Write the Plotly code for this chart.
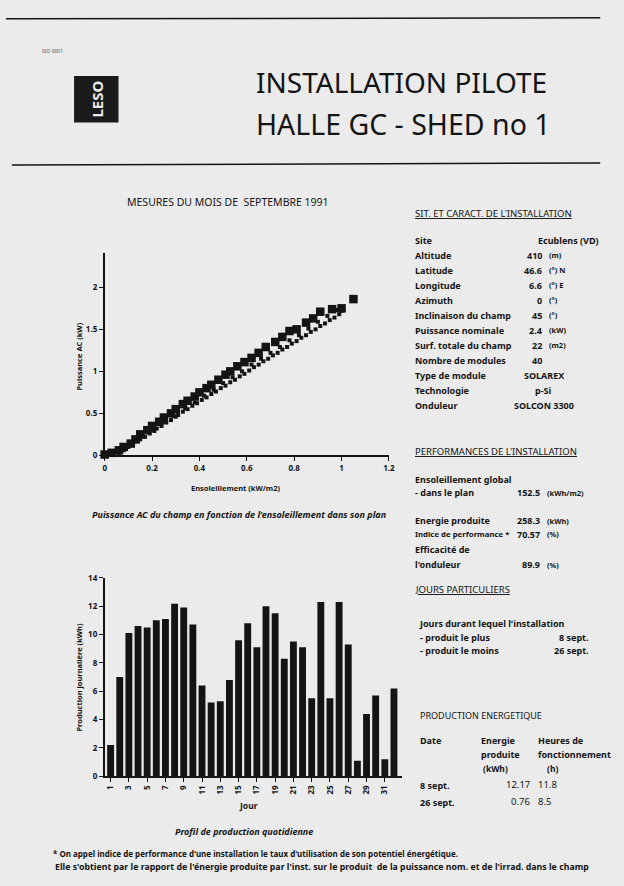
import plotly.graph_objects as go

W, H = 624, 886
BG = "#ebebeb"
INK = "#141414"
FONT = "Noto Sans"


def px(x):
    return x / W


def py(y):
    return 1 - y / H


# ---------------- data ----------------
# AC power vs. in-plane irradiance (upper row of square markers)
irr_sq = [0.00, 0.03, 0.06, 0.08, 0.11, 0.13, 0.15, 0.18, 0.20, 0.23, 0.25, 0.28,
          0.30, 0.33, 0.35, 0.38, 0.40, 0.43, 0.45, 0.48, 0.51, 0.53, 0.56, 0.59,
          0.62, 0.65, 0.68, 0.72, 0.75, 0.78, 0.81, 0.85, 0.88, 0.91, 0.96, 1.00, 1.05]
pac_sq = [0.01, 0.03, 0.06, 0.10, 0.14, 0.19, 0.25, 0.30, 0.35, 0.40, 0.45, 0.50,
          0.55, 0.61, 0.65, 0.70, 0.75, 0.80, 0.84, 0.90, 0.96, 1.00, 1.06, 1.11,
          1.16, 1.22, 1.29, 1.35, 1.41, 1.48, 1.50, 1.58, 1.63, 1.71, 1.74, 1.75, 1.86]
# AC power vs. irradiance (smaller hourly marks forming the lower band)
irr_dot = [0.04, 0.06, 0.08, 0.09, 0.10, 0.12, 0.14, 0.15, 0.17, 0.19, 0.21, 0.22,
           0.24, 0.26, 0.28, 0.30, 0.31, 0.33, 0.35, 0.37, 0.39, 0.41, 0.43, 0.45,
           0.47, 0.49, 0.51, 0.53, 0.55, 0.57, 0.59, 0.61, 0.63, 0.65, 0.67, 0.69,
           0.71, 0.73, 0.75, 0.77, 0.79, 0.81, 0.83, 0.85, 0.87, 0.89, 0.91, 0.93,
           0.95, 0.97, 0.99, 1.00,
           0.07, 0.11, 0.16, 0.20, 0.25, 0.29, 0.34, 0.38, 0.42, 0.46, 0.50, 0.54,
           0.58, 0.62, 0.66, 0.70, 0.74, 0.78, 0.82, 0.86, 0.90, 0.94, 0.98]
pac_dot = [0.01, 0.03, 0.06, 0.08, 0.10, 0.13, 0.17, 0.19, 0.22, 0.26, 0.29, 0.32,
           0.35, 0.39, 0.42, 0.46, 0.48, 0.52, 0.55, 0.59, 0.62, 0.66, 0.69, 0.73,
           0.76, 0.80, 0.83, 0.87, 0.90, 0.94, 0.97, 1.01, 1.05, 1.08, 1.12, 1.15,
           1.19, 1.22, 1.26, 1.29, 1.33, 1.36, 1.40, 1.43, 1.47, 1.50, 1.54, 1.57,
           1.61, 1.64, 1.68, 1.72,
           0.07, 0.13, 0.23, 0.30, 0.40, 0.47, 0.56, 0.63, 0.71, 0.78, 0.86, 0.93,
           1.00, 1.08, 1.15, 1.22, 1.29, 1.37, 1.43, 1.51, 1.59, 1.66, 1.73]

# daily energy production
days = list(range(1, 33))
daily_kwh = [2.2, 7.0, 10.1, 10.6, 10.5, 11.0, 11.1, 12.17, 11.9, 10.7,
             6.4, 5.2, 5.3, 6.8, 9.6, 10.8, 9.1, 12.0, 11.5, 8.3,
             9.5, 9.1, 5.5, 12.3, 5.5, 12.3, 9.3, 1.1, 4.4, 5.7,
             1.2, 6.2]

scatter_xticks = [0, 0.2, 0.4, 0.6, 0.8, 1, 1.2]
scatter_xtext = ["0", "0.2", "0.4", "0.6", "0.8", "1", "1.2"]
scatter_yticks = [0, 0.5, 1, 1.5, 2]
scatter_ytext = ["0", "0.5", "1", "1.5", "2"]
bar_yticks = [0, 2, 4, 6, 8, 10, 12, 14]
bar_xticks = list(range(1, 32, 2))

site_labels = ["Site", "Altitude", "Latitude", "Longitude", "Azimuth",
               "Inclinaison du champ", "Puissance nominale", "Surf. totale du champ",
               "Nombre de modules", "Type de module", "Technologie", "Onduleur"]
site_numbers = ["", "410", "46.6", "6.6", "0", "45", "2.4", "22", "40", "", "", ""]
site_units = ["", "(m)", "(°) N", "(°) E", "(°)", "(°)", "(kW)", "(m2)", "", "", "", ""]
site_words = ["Ecublens (VD)", "", "", "", "", "", "", "", "", "SOLAREX", "p-Si", "SOLCON 3300"]

perf_labels = ["Ensoleillement global", "- dans le plan", "Energie produite",
               "Indice de performance *", "Efficacité de", "l'onduleur"]
perf_numbers = ["", "152.5", "258.3", "70.57", "", "89.9"]
perf_units = ["", "(kWh/m2)", "(kWh)", "(%)", "", "(%)"]

prod_dates = ["8 sept.", "26 sept."]
prod_energy = ["12.17", "0.76"]
prod_hours = ["11.8", "8.5"]

# ---------------- figure ----------------
fig = go.Figure()

fig.add_trace(go.Scatter(
    x=irr_dot, y=pac_dot, mode="markers", xaxis="x", yaxis="y",
    marker=dict(symbol="square", size=4, color=INK), cliponaxis=False,
    showlegend=False, hoverinfo="skip"))
fig.add_trace(go.Scatter(
    x=irr_sq, y=pac_sq, mode="markers", xaxis="x", yaxis="y",
    marker=dict(symbol="square", size=8.5, color=INK), cliponaxis=False,
    showlegend=False))

fig.add_trace(go.Bar(
    x=days, y=daily_kwh, xaxis="x2", yaxis="y2",
    marker=dict(color=INK, line=dict(width=0)), showlegend=False))

tickfont = dict(family=FONT, size=8, color=INK, weight="bold")
axis_common = dict(showgrid=False, zeroline=False, showline=True, linecolor=INK,
                   linewidth=1.6, ticks="outside", tickcolor=INK, ticklen=4,
                   tickwidth=1.3, tickfont=tickfont)

fig.update_layout(
    width=W, height=H, margin=dict(l=0, r=0, t=0, b=0),
    paper_bgcolor=BG, plot_bgcolor=BG, bargap=0.25,
    xaxis=dict(domain=[px(104), px(392)], range=[0, 1.2], anchor="y",
               tickvals=scatter_xticks, ticktext=scatter_xtext, **axis_common),
    yaxis=dict(domain=[py(455), py(250)], range=[0, 2.41], anchor="x",
               tickvals=scatter_yticks, ticktext=scatter_ytext, **axis_common),
    xaxis2=dict(domain=[px(104), px(405)], range=[0.35, 32.86], anchor="y2",
                tickvals=bar_xticks, tickangle=-90, **axis_common),
    yaxis2=dict(domain=[py(780), py(579)], range=[0, 14], anchor="x2",
                tickvals=bar_yticks, **axis_common),
)

ann = []


def text(x, y, s, size=9, xanchor="left", yanchor="middle", color=INK,
         textangle=0, weight="bold", style="normal"):
    ann.append(dict(x=px(x), y=py(y), xref="paper", yref="paper", text=s,
                    showarrow=False, xanchor=xanchor, yanchor=yanchor,
                    textangle=textangle,
                    font=dict(family=FONT, size=size, color=color,
                              weight=weight, style=style)))


# header
text(255, 77, "INSTALLATION PILOTE", size=28, weight="normal")
text(255, 119, "HALLE GC - SHED no 1", size=28.5, weight="normal")
text(38, 46, "ISO 9001", size=5, color="#555", weight="normal")
text(96, 94, "LESO", size=15, color=BG, xanchor="center", textangle=-90)

# scatter chart titles
text(229, 198, "MESURES DU MOIS DE  SEPTEMBRE 1991", size=10.5, xanchor="center",
     weight="normal")
text(78, 355, "Puissance AC (kW)", size=7.5, xanchor="center", textangle=-90)
text(237, 488, "Ensoleillement (kW/m2)", size=7.5, xanchor="center")
text(240, 515, "Puissance AC du champ en fonction de l'ensoleillement dans son plan",
     size=9, xanchor="center", style="italic")

# bar chart titles
text(78, 680, "Production journalière (kWh)", size=7.5, xanchor="center", textangle=-90)
text(250, 810, "Jour", size=8.5, xanchor="center")
text(245, 836, "Profil de production quotidienne", size=9, xanchor="center",
     style="italic")

# installation characteristics
text(416, 210, "<u>SIT. ET CARACT. DE L'INSTALLATION</u>", size=9.5, weight="normal")
for i, lab in enumerate(site_labels):
    yy = 237 + i * 15.2
    text(416, yy, lab, size=9)
    if site_numbers[i]:
        text(549, yy, site_numbers[i], size=9, xanchor="right")
        if site_units[i]:
            text(552, yy, site_units[i], size=7.5)
    elif site_words[i]:
        if i == 0:
            text(607, yy, site_words[i], size=9, xanchor="right")
        else:
            text(549, yy, site_words[i], size=9, xanchor="center")

# performance
text(416, 451, "<u>PERFORMANCES DE L'INSTALLATION</u>", size=9.5, weight="normal")
perf_y = [479, 493, 521, 535, 550, 566]
perf_size = [9, 9, 9, 7.8, 9, 9]
for lab, num, unit, yy, sz in zip(perf_labels, perf_numbers, perf_units, perf_y, perf_size):
    text(416, yy, lab, size=sz)
    if num:
        text(547, yy, num, size=9, xanchor="right")
        text(550, yy, unit, size=7.5)

# particular days
text(416, 591, "<u>JOURS PARTICULIERS</u>", size=9.5, weight="normal")
text(420, 625, "Jours durant lequel l'installation", size=9)
text(421, 639, "- produit le plus", size=9)
text(597, 639, "8 sept.", size=9, xanchor="right")
text(421, 653, "- produit le moins", size=9)
text(597, 653, "26 sept.", size=9, xanchor="right")

# energy production table
text(421, 718, "PRODUCTION ENERGETIQUE", size=9, weight="normal")
text(421, 744, "Date", size=9)
text(483, 744, "Energie", size=9)
text(483, 758, "produite", size=9)
text(500, 772, "(kWh)", size=8.5, xanchor="center")
text(541, 744, "Heures de", size=9)
text(541, 758, "fonctionnement", size=9)
text(558, 772, "(h)", size=8.5, xanchor="center")
for i, (d, e, h) in enumerate(zip(prod_dates, prod_energy, prod_hours)):
    yy = 788 + i * 18
    text(421, yy + 1, d, size=9)
    text(537, yy, e, size=9.5, xanchor="right", weight="normal")
    text(541, yy, h, size=9.5, weight="normal")

# footnote
text(50, 858, "* On appel indice de performance d'une installation le taux d'utilisation de son potentiel énergétique.",
     size=8)
text(52, 872, "Elle s'obtient par le rapport de l'énergie produite par l'inst. sur le produit  de la puissance nom. et de l'irrad. dans le champ",
     size=8.8)

fig.update_layout(annotations=ann)

# rules and logo block
fig.update_layout(shapes=[
    dict(type="line", xref="paper", yref="paper", x0=px(4), x1=px(606), y0=py(13), y1=py(12),
         line=dict(color=INK, width=1.5)),
    dict(type="line", xref="paper", yref="paper", x0=px(10), x1=px(606), y0=py(161), y1=py(159),
         line=dict(color=INK, width=1.5)),
    dict(type="rect", xref="paper", yref="paper", x0=px(73), x1=px(118), y0=py(118), y1=py(71),
         fillcolor="#1a1a1a", line=dict(width=0), layer="below"),
])

fig.write_html("out.html")
